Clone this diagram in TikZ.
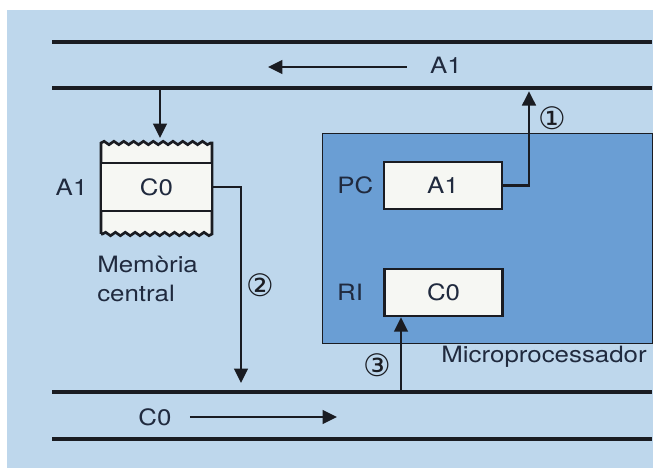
\documentclass[tikz,border=0pt]{standalone}
\usepackage{fontspec}
\setmainfont{TeX Gyre Heros}[FakeStretch=1.15]
\newfontfamily\circfont{DejaVu Sans}
\usetikzlibrary{arrows.meta,positioning,calc,decorations.pathmorphing}
\definecolor{dgback}{RGB}{190,215,236}
\definecolor{dgproc}{RGB}{106,158,212}
\definecolor{dgreg}{RGB}{246,247,243}
\definecolor{dgline}{RGB}{26,28,34}
\definecolor{dgtext}{RGB}{32,42,62}
\tikzset{
  bus/.style={draw=dgline, line width=2.3pt},
  flow/.style={draw=dgline, line width=1.9pt, -{Triangle[length=3.6mm, width=3.4mm]}},
  reg/.style={draw=dgline, line width=1.9pt, fill=dgreg, text=dgtext,
              font=\fontsize{16}{20.6}\selectfont, minimum width=2.95cm, minimum height=1.175cm},
  lbl/.style={font=\fontsize{16}{20.6}\selectfont, text=dgtext, inner sep=0pt},
  stepno/.style={font=\circfont\fontsize{22}{24}\selectfont, text=dgline, inner sep=0pt},
  wavy/.style={decoration={snake, amplitude=1.2pt, segment length=7pt}},
}

\begin{document}
\begin{tikzpicture}
\useasboundingbox (0,0) rectangle (16.325,11.7);
% Background
\fill[dgback] (0.175,0) rectangle (16.325,11.45);
% Address bus (top) and data bus (bottom)
\draw[bus] (1.3,10.65) -- (16.3,10.65);
\draw[bus] (1.3,9.5) coordinate (abus) -- (16.3,9.5);
\draw[bus] (1.3,1.9) coordinate (dbus) -- (16.3,1.9);
\draw[bus] (1.3,0.725) -- (16.3,0.725);
\node[lbl] (atxt) at (11.15,10.075) {A1};
\coordinate (aend) at (6.7,10.025);
\draw[flow] ([xshift=-0.575cm]atxt.west |- aend) -- (aend);
\node[lbl] (ctxt) at (3.875,1.275) {C0};
\coordinate (cend) at (8.425,1.275);
\draw[flow] ([xshift=0.45cm]ctxt.east) -- (cend);
% Memory
\filldraw[draw=dgline, fill=dgreg, line width=1.9pt] (2.525,5.85) -- (2.525,8.125)
  decorate[wavy] {-- (5.3,8.125)} -- (5.3,5.85) decorate[wavy] {-- (2.525,5.85)};
\node[reg, minimum width=2.775cm, minimum height=1.2cm] (memcell) at (3.9125,7.025) {C0};
\node[lbl, left=0.3cm of memcell] (memaddr) {A1};
\node[lbl, align=left, anchor=north west] (memtxt) at (2.425,5.31) {Memòria\\central};
\coordinate (memin) at (4.0,8.25);
\draw[flow] (memin |- abus) -- (memin);
% Microprocessor
\node[draw=dgline, fill=dgproc, line width=1pt, anchor=north west,
      minimum width=8.25cm, minimum height=5.25cm] (mcu) at (8.05,8.375) {};
\node[lbl, anchor=base east] (mcutxt) at (16.175,2.635) {Microprocessador};
\node[reg] (pcreg) at (11.075,7.0625) {A1};
\node[lbl, left=0.225cm of pcreg] (pctxt) {PC};
\node[reg] (rireg) at (11.09,4.39) {C0};
\node[lbl, left=0.5cm of rireg] (ritxt) {RI};
% Transfer steps
\coordinate (pcup) at (13.225,9.42);
\draw[flow] (pcreg.east) -| (pcup);
\node[stepno] (st1) at (13.8,8.75) {①};
\coordinate (memdown) at (6.025,2.125);
\draw[flow] (memcell.east) -| (memdown);
\node[stepno] (st2) at (6.5,4.575) {②};
\coordinate (riin) at (10.025,1.9);
\draw[flow] (riin) -- (riin |- rireg.south);
\node[stepno] (st3) at (9.425,2.575) {③};
\end{tikzpicture}
\end{document}
